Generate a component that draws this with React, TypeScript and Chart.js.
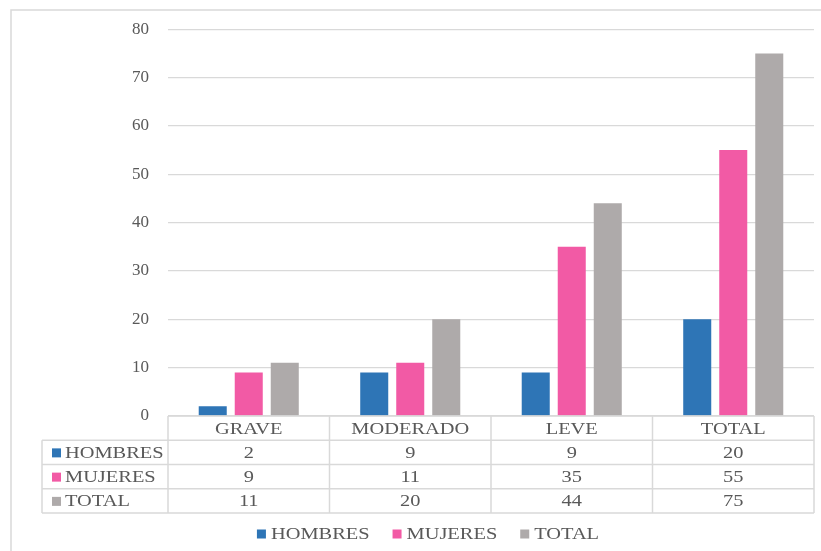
import React, { useEffect, useRef } from "react";
import { Chart, registerables } from "chart.js";

Chart.register(...registerables);

// Datos del gráfico
const categorias = ["GRAVE", "MODERADO", "LEVE", "TOTAL"];
const hombres = [2, 9, 9, 20];
const mujeres = [9, 11, 35, 55];
const total = [11, 20, 44, 75];
const ticksY = [0, 10, 20, 30, 40, 50, 60, 70, 80];

const FAMILY = "'Liberation Serif', 'Times New Roman', serif";
const FONT = `17px ${FAMILY}`;
const TEXT = "#595959";
const LINE = "#D9D9D9";
const SX = 1.2; // ensanchamiento horizontal del texto de la tabla y la leyenda
const TABLE_LEFT = 42;
const ROW_H = 24.25;
const LEGEND_Y = 534;

function stretchedText(ctx: CanvasRenderingContext2D, text: string, x: number, y: number, align: CanvasTextAlign) {
  ctx.save();
  ctx.translate(x, y);
  ctx.scale(SX, 1);
  ctx.textAlign = align;
  ctx.textBaseline = "middle";
  ctx.fillText(text, 0, 0);
  ctx.restore();
}

const tablaPlugin = {
  id: "tablaDatos",
  beforeDraw(chart: any) {
    const ctx: CanvasRenderingContext2D = chart.ctx;
    ctx.save();
    ctx.strokeStyle = LINE;
    ctx.lineWidth = 1.5;
    ctx.strokeRect(11, 10, 1000, 1000);
    ctx.restore();
  },
  afterDraw(chart: any) {
    const ctx: CanvasRenderingContext2D = chart.ctx;
    const area = chart.chartArea;
    const labels: string[] = chart.data.labels;
    const sets = chart.data.datasets;
    const n = labels.length;
    const cw = (area.right - area.left) / n;
    const top = area.bottom;
    const bottom = top + ROW_H * (sets.length + 1);

    ctx.save();
    ctx.strokeStyle = LINE;
    ctx.lineWidth = 1.5;
    ctx.beginPath();
    // cabecera
    ctx.moveTo(area.left, top);
    ctx.lineTo(area.right, top);
    for (let r = 1; r <= sets.length + 1; r++) {
      const y = top + ROW_H * r;
      ctx.moveTo(TABLE_LEFT, y);
      ctx.lineTo(area.right, y);
    }
    for (let c = 0; c <= n; c++) {
      const x = area.left + cw * c;
      ctx.moveTo(x, top);
      ctx.lineTo(x, bottom);
    }
    ctx.moveTo(TABLE_LEFT, top + ROW_H);
    ctx.lineTo(TABLE_LEFT, bottom);
    ctx.stroke();

    ctx.font = FONT;
    ctx.fillStyle = TEXT;
    labels.forEach((lab, i) => {
      const cx = chart.scales.x.getPixelForValue(i);
      stretchedText(ctx, lab, cx, top + ROW_H / 2 + 1, "center");
    });
    sets.forEach((ds: any, r: number) => {
      const cy = top + ROW_H * (r + 1.5) + 1;
      ctx.fillStyle = ds.backgroundColor;
      ctx.fillRect(TABLE_LEFT + 10, cy - 5, 9, 9);
      ctx.fillStyle = TEXT;
      stretchedText(ctx, ds.label, TABLE_LEFT + 23, cy, "left");
      ds.data.forEach((v: number, i: number) => {
        const cx = chart.scales.x.getPixelForValue(i);
        stretchedText(ctx, String(v), cx, cy, "center");
      });
    });

    // leyenda
    const box = 9, gapBox = 5, gapItem = 23;
    const widths = sets.map((ds: any) => ctx.measureText(ds.label).width * SX);
    const totalW = widths.reduce((a: number, w: number) => a + box + gapBox + w, 0) + gapItem * (sets.length - 1);
    let x = (TABLE_LEFT + area.right) / 2 - totalW / 2;
    sets.forEach((ds: any, k: number) => {
      ctx.fillStyle = ds.backgroundColor;
      ctx.fillRect(x, LEGEND_Y - 4.5, box, box);
      ctx.fillStyle = TEXT;
      stretchedText(ctx, ds.label, x + box + gapBox, LEGEND_Y + 1, "left");
      x += box + gapBox + widths[k] + gapItem;
    });
    ctx.restore();
  },
};

export default function App() {
  const ref = useRef<HTMLCanvasElement | null>(null);

  useEffect(() => {
    if (!ref.current) return;
    const chart = new Chart(ref.current, {
      type: "bar",
      data: {
        labels: categorias,
        datasets: [
          { label: "HOMBRES", data: hombres, backgroundColor: "#2E75B6" },
          { label: "MUJERES", data: mujeres, backgroundColor: "#F25AA5" },
          { label: "TOTAL", data: total, backgroundColor: "#AEAAAA" },
        ],
      },
      options: {
        responsive: false,
        animation: false,
        devicePixelRatio: 1,
        datasets: { bar: { categoryPercentage: 0.669, barPercentage: 0.778 } },
        layout: { padding: { top: 28, right: 7, left: 0, bottom: 0 } },
        plugins: { legend: { display: false }, tooltip: { enabled: false } },
        scales: {
          x: {
            grid: { display: false },
            border: { display: false },
            ticks: { display: false },
            afterFit: (s: any) => {
              s.height = 135;
            },
          },
          y: {
            min: 0,
            max: 80,
            afterBuildTicks: (s: any) => {
              s.ticks = ticksY.map((v) => ({ value: v }));
            },
            grid: { color: LINE, lineWidth: 1.25, drawTicks: false },
            border: { display: false },
            ticks: { color: TEXT, font: { family: FAMILY, size: 17 }, padding: 19 },
            afterFit: (s: any) => {
              s.width = 168;
            },
          },
        },
      },
      plugins: [tablaPlugin],
    });
    return () => chart.destroy();
  }, []);

  return (
    <div style={{ position: "fixed", left: 0, top: 0, width: 821, height: 551, background: "#fff" }}>
      <canvas ref={ref} width={821} height={551} />
    </div>
  );
}
